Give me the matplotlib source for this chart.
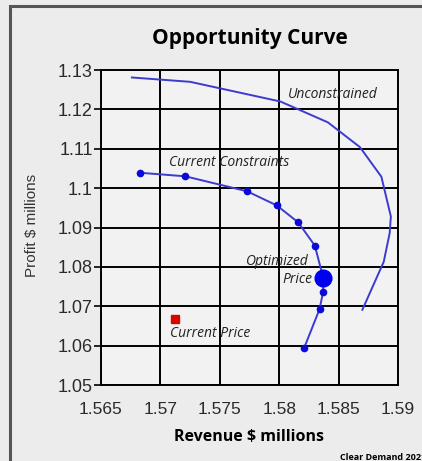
import matplotlib.pyplot as plt
from matplotlib.patches import Rectangle

# Unconstrained curve (revenue, profit)
unc_rev = [1.5676, 1.5725, 1.5801, 1.5841, 1.5868, 1.5886, 1.5894, 1.5893, 1.5888, 1.5870]
unc_profit = [1.1281, 1.1270, 1.1220, 1.1167, 1.1104, 1.1029, 1.0928, 1.0886, 1.0813, 1.0691]

# Current constraints curve
cc_rev = [1.5683, 1.5721, 1.5773, 1.5798, 1.5816, 1.5830, 1.5837, 1.5837, 1.5834, 1.5821]
cc_profit = [1.1039, 1.1030, 1.0992, 1.0956, 1.0913, 1.0854, 1.0773, 1.0737, 1.0693, 1.0594]

opt_rev, opt_profit = 1.5837, 1.0773
cur_rev, cur_profit = 1.5712, 1.0668

xticks = [1.565, 1.57, 1.575, 1.58, 1.585, 1.59]
xticklabels = ["1.565", "1.57", "1.575", "1.58", "1.585", "1.59"]
yticks = [1.05, 1.06, 1.07, 1.08, 1.09, 1.1, 1.11, 1.12, 1.13]
yticklabels = ["1.05", "1.06", "1.07", "1.08", "1.09", "1.1", "1.11", "1.12", "1.13"]

fig = plt.figure(figsize=(4.22, 4.61), dpi=100)
fig.patch.set_facecolor("#ececec")
fig.patches.append(Rectangle((10 / 422, -0.1), 1.2, 1.1 - 6 / 461, transform=fig.transFigure,
                             fill=False, edgecolor="#555555", linewidth=2.2))

ax = fig.add_axes([101 / 422, 1 - 385 / 461, 297 / 422, 315 / 461])
ax.set_facecolor("#f2f2f2")

line_col = "#3b3bd0"
ax.plot(unc_rev, unc_profit, color=line_col, lw=1.4, zorder=3)
ax.plot(cc_rev, cc_profit, color=line_col, lw=1.4, marker="o", ms=4.5,
        mfc="#0a0ad8", mec="#0a0ad8", zorder=3)
ax.plot([opt_rev], [opt_profit], "o", ms=12, color="#0000f0", zorder=4)
ax.plot([cur_rev], [cur_profit], "s", ms=6, color="#e00000", zorder=4)

lab = dict(fontsize=10, style="italic", family="Open Sans", color="#222222", va="center")
ax.text(1.5807, 1.1237, "Unconstrained", **lab)
ax.text(1.5707, 1.1065, "Current Constraints", **lab)
ax.text(1.5772, 1.0813, "Optimized", **lab)
ax.text(1.5803, 1.0769, "Price", **lab)
ax.text(1.5708, 1.0630, "Current Price", **lab)

ax.set_xlim(1.565, 1.59)
ax.set_ylim(1.05, 1.13)
ax.set_xticks(xticks)
ax.set_xticklabels(xticklabels)
ax.set_yticks(yticks)
ax.set_yticklabels(yticklabels)
ax.grid(True, color="black", lw=1.4)
ax.set_axisbelow(True)
for s in ax.spines.values():
    s.set_color("black")
    s.set_linewidth(1.4)

ax.tick_params(axis="y", direction="out", length=5, width=1.2, pad=1,
               labelsize=13, labelcolor="#2a2a2a")
ax.tick_params(axis="x", length=0, pad=12, labelsize=12.5, labelcolor="#2a2a2a")
for t in ax.get_xticklabels() + ax.get_yticklabels():
    t.set_family("Liberation Sans")

ax.set_title("Opportunity Curve", fontsize=15, fontweight="bold", family="Open Sans",
             pad=19, color="black")
ax.set_xlabel("Revenue $ millions", fontsize=11.5, fontweight="bold", family="Open Sans",
              labelpad=9)
fig.text(32 / 422, 1 - 225 / 461, "Profit $ millions", rotation=90, fontsize=11,
         family="Liberation Sans", color="#333333", ha="center", va="center")
fig.text(340 / 422, 1 - 457 / 461, "Clear Demand 2021", fontsize=6.5, fontweight="bold",
         family="Open Sans", ha="left", va="center")

fig.savefig("out.png", dpi=100, facecolor=fig.get_facecolor())
